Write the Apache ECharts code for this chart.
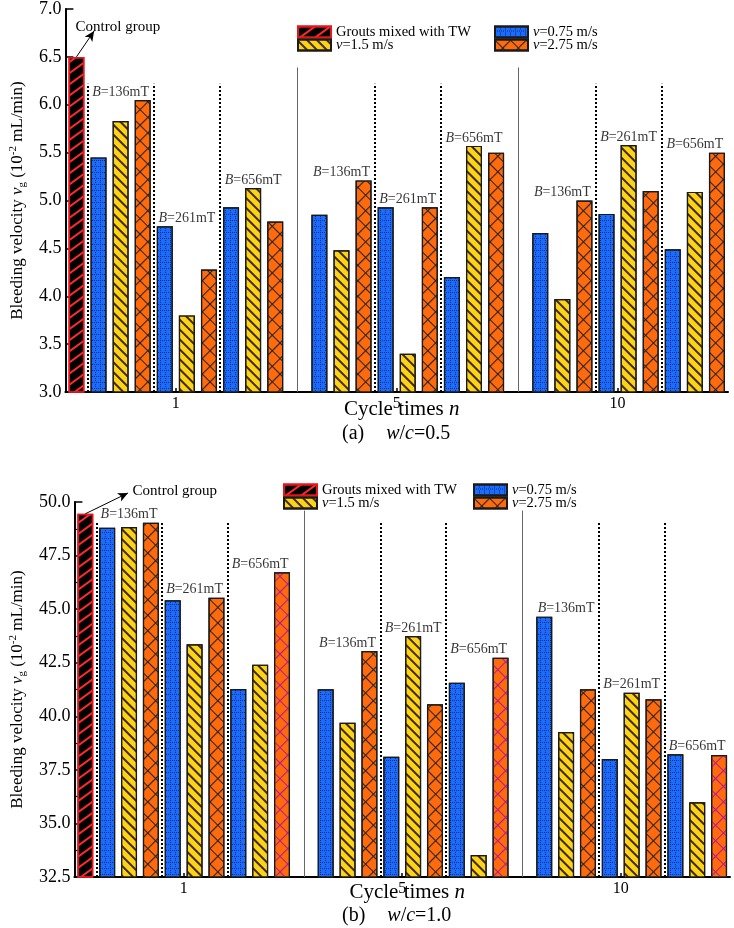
<!DOCTYPE html>
<html><head><meta charset="utf-8">
<script src="https://cdn.jsdelivr.net/npm/echarts@6/dist/echarts.min.js"></script>
<style>html,body{margin:0;padding:0;background:#fff}#c{width:734px;height:928px}</style>
</head><body><div id="c"></div>
<script>
// ---------- data ----------
const cycleTicks = ['1', '5', '10'];
const fieldLabels = ['136mT', '261mT', '656mT'];
const seriesNames = ['Grouts mixed with TW', 'v=0.75 m/s', 'v=1.5 m/s', 'v=2.75 m/s'];
// order inside each array: n=1 (B=136,261,656), n=5 (B=136,261,656), n=10 (B=136,261,656)
const controlA = 6.50;
const v075A = [5.45, 4.73, 4.93, 4.85, 4.93, 4.20, 4.66, 4.86, 4.49];
const v15A  = [5.83, 3.80, 5.13, 4.48, 3.40, 5.57, 3.97, 5.58, 5.09];
const v275A = [6.05, 4.28, 4.78, 5.21, 4.93, 5.50, 5.00, 5.10, 5.50];
const controlB = 49.45;
const v075B = [48.80, 45.41, 41.27, 41.26, 38.11, 41.57, 44.65, 38.01, 38.23];
const v15B  = [48.83, 43.36, 42.41, 39.70, 43.75, 33.53, 39.27, 41.10, 35.99];
const v275B = [49.03, 45.53, 46.72, 43.05, 40.56, 42.73, 41.26, 40.79, 38.19];

// ---------- styling / layout ----------
const F = 'Liberation Serif';
const colors = ['#000000', '#1a6cff', '#ffd21a', '#ff6a0c'];
const decals = [
  {symbol: 'rect', color: '#ff2a2a', dashArrayX: [1, 0], dashArrayY: [1.3, 7], rotation: -Math.PI / 5},
  {symbol: 'rect', color: 'rgba(8,25,80,0.8)', dashArrayX: [[1, 1], [1, 4], [1, 4]], dashArrayY: [1, 1]},
  {symbol: 'rect', color: '#3a2c00', dashArrayX: [1, 0], dashArrayY: [1.6, 5], rotation: Math.PI / 4},
  {symbol: 'path://M0,0H10V1H1V10H0Z', color: '#222222', dashArrayX: [11, 0], dashArrayY: [11, 0], rotation: Math.PI / 4}
];
const magentaDecal = Object.assign({}, decals[3], {color: '#b01c8c'});

const panels = [
  {control: controlA, speeds: [v075A, v15A, v275A],
   grid: {left: 62, top: 8, right: 6, height: 384},
   y: {min: 3, max: 7, interval: 0.5, minor: false},
   dotTop: 6.22, solidTop: 6.39, arrowEnd: {coord: [1.3, 6.77]}, arrowPad: [0, 0, 0, 52], arrowDist: -4,
   caption: '(a)', wc: '0.5', captionTop: 424, legendTop: 24.5, legendLeft: [297, 494],
   altHatch: false, yNameGap: 34, xNameGap: 7},
  {control: controlB, speeds: [v075B, v15B, v275B],
   grid: {left: 67, top: 502, right: 4, height: 375},
   y: {min: 32.5, max: 50, interval: 2.5, minor: true},
   dotTop: 49.07, solidTop: 49.6, arrowEnd: {x: 128, y: 493}, arrowPad: [0, 0, 0, 0], arrowDist: 5,
   caption: '(b)', wc: '1.0', captionTop: 906, legendTop: 482.5, legendLeft: [283, 473],
   altHatch: true, yNameGap: 39, xNameGap: 5}
];

// slot layout: control at slot 0, each n-group occupies 9 slots, 1 empty slot between n-groups
function slotOf(k, s) { const g = Math.floor(k / 3), b = k % 3; return 1 + g * 10 + b * 3 + s + 0.5; }
function groupCenter(k) { const g = Math.floor(k / 3), b = k % 3; return 1 + g * 10 + b * 3 + 1.5; }
const tickCats = [''];
cycleTicks.forEach(t => { tickCats.push(t, ''); });

const grids = [], xAxes = [], yAxes = [], series = [], legends = [], titles = [];

panels.forEach((p, pi) => {
  grids.push(p.grid);
  xAxes.push({
    type: 'value', gridIndex: pi, min: 0, max: 30, position: 'bottom',
    axisLine: {onZero: false, lineStyle: {color: '#000', width: 2}},
    axisTick: {show: false}, axisLabel: {show: false}, splitLine: {show: false},
    name: 'Cycle times {i|n}', nameLocation: 'middle', nameGap: p.xNameGap,
    nameTextStyle: {fontFamily: F, fontSize: 21, color: '#000', padding: [0, 0, 0, 10],
      rich: {i: {fontFamily: F, fontSize: 21, fontStyle: 'italic', color: '#000'}}}
  });
  xAxes.push({
    type: 'category', gridIndex: pi, data: tickCats, boundaryGap: false, position: 'bottom',
    axisLine: {show: false},
    axisTick: {show: true, inside: true, length: 4, interval: (i) => i % 2 === 1,
      lineStyle: {color: '#000', width: 1.5}},
    axisLabel: {interval: 0, margin: 4, fontFamily: F, fontSize: 16, color: '#000'},
    splitLine: {show: false}
  });
  yAxes.push({
    type: 'value', gridIndex: pi, min: p.y.min, max: p.y.max, interval: p.y.interval,
    axisLine: {show: true, lineStyle: {color: '#000', width: 2}},
    axisTick: {show: true, inside: true, length: 8, lineStyle: {color: '#000', width: 1.5}},
    minorTick: {show: p.y.minor, splitNumber: 2, length: 5, lineStyle: {color: '#000', width: 1.2}},
    axisLabel: {margin: 4, fontFamily: F, fontSize: 18, color: '#000', formatter: v => v.toFixed(1)},
    splitLine: {show: false},
    name: 'Bleeding velocity {i|v}{sub|g} (10{sup|-2} mL/min)', nameLocation: 'middle', nameGap: p.yNameGap,
    nameTextStyle: {fontFamily: F, fontSize: 17, color: '#000', rich: {
      i: {fontFamily: F, fontSize: 17, fontStyle: 'italic', color: '#000'},
      sub: {fontFamily: F, fontSize: 11, color: '#000', padding: [9, 0, 0, 0]},
      sup: {fontFamily: F, fontSize: 11, color: '#000', padding: [0, 0, 9, 0]}}}
  });

  const xv = pi * 2;
  // separators
  const sepData = [];
  const dotStyle = {color: '#000', width: 2, type: [2, 2]};
  const solidStyle = {color: '#666', width: 1, type: 'solid'};
  for (let g = 0; g < 3; g++) {
    for (let b = 0; b < 3; b++) {
      if (g > 0 && b === 0) continue;
      const x = 1 + g * 10 + b * 3;
      sepData.push([{coord: [x, p.y.min], lineStyle: dotStyle}, {coord: [x, p.dotTop]}]);
    }
    if (g > 0) {
      const x = g * 10 + 0.5;
      sepData.push([{coord: [x, p.y.min], lineStyle: solidStyle}, {coord: [x, p.solidTop]}]);
    }
  }
  sepData.push([
    {coord: [0.5, p.control], symbol: 'none', lineStyle: {color: '#000', width: 1, type: 'solid'},
     label: {show: true, position: 'end', distance: p.arrowDist, formatter: 'Control group',
       fontFamily: F, fontSize: 15, color: '#000', padding: p.arrowPad}},
    Object.assign({symbol: 'arrow', symbolSize: [7, 10]}, p.arrowEnd)
  ]);

  series.push({
    type: 'bar', name: seriesNames[0], xAxisIndex: xv, yAxisIndex: pi,
    barWidth: 16, barGap: '-100%',
    itemStyle: {color: colors[0], borderColor: '#e8141c', borderWidth: 1.5, decal: decals[0]},
    data: [[0.5, p.control]],
    markLine: {silent: true, animation: false, symbol: ['none', 'none'], label: {show: false}, data: sepData}
  });
  p.speeds.forEach((arr, s) => {
    series.push({
      type: 'bar', name: seriesNames[s + 1], xAxisIndex: xv, yAxisIndex: pi,
      barWidth: 16, barGap: '-100%',
      itemStyle: {color: colors[s + 1], borderColor: '#1a1a1a', borderWidth: 1.2, decal: decals[s + 1]},
      data: arr.map((v, k) => {
        const item = {value: [slotOf(k, s), v]};
        if (p.altHatch && s === 2 && k % 3 === 2) item.itemStyle = {decal: magentaDecal};
        return item;
      })
    });
  });
  // field labels above each group
  series.push({
    type: 'scatter', name: 'fieldLabels', xAxisIndex: xv, yAxisIndex: pi, symbolSize: 0, silent: true, z: 5,
    data: p.speeds[0].map((_, k) => ({
      name: fieldLabels[k % 3],
      value: [groupCenter(k), Math.max(p.speeds[0][k], p.speeds[1][k], p.speeds[2][k])]
    })),
    label: {show: true, position: 'top', distance: 1, formatter: (d) => '{i|B}=' + d.name,
      fontFamily: F, fontSize: 14, color: '#000',
      rich: {i: {fontFamily: F, fontSize: 14, fontStyle: 'italic', color: '#000'}}}
  });

  const legendCommon = {
    orient: 'vertical', top: p.legendTop, itemWidth: 33, itemHeight: 11, itemGap: -2, icon: 'rect',
    padding: 0, selectedMode: false,
    formatter: (n) => n.startsWith('v=') ? '{i|v}' + n.slice(1) : n,
    textStyle: {fontFamily: F, fontSize: 14.5, color: '#000', lineHeight: 13,
      rich: {i: {fontFamily: F, fontSize: 14.5, fontStyle: 'italic', color: '#000', lineHeight: 13}}}
  };
  legends.push(Object.assign({}, legendCommon, {left: p.legendLeft[0], data: [seriesNames[0], seriesNames[2]]}));
  legends.push(Object.assign({}, legendCommon, {left: p.legendLeft[1], data: [seriesNames[1], seriesNames[3]]}));

  titles.push({
    text: p.caption + '{sp|}{i|w}/{i|c}=' + p.wc, left: 342, top: p.captionTop, padding: 0,
    textStyle: {fontFamily: F, fontSize: 20, fontWeight: 'normal', color: '#000',
      rich: {i: {fontFamily: F, fontSize: 20, fontStyle: 'italic', color: '#000'},
             sp: {width: 22}}}
  });
});

const chart = echarts.init(document.getElementById('c'), null, {renderer: 'canvas'});
chart.setOption({
  animation: false,
  backgroundColor: '#fff',
  title: titles,
  legend: legends,
  grid: grids,
  xAxis: xAxes,
  yAxis: yAxes,
  series: series
});
</script>
</body></html>
